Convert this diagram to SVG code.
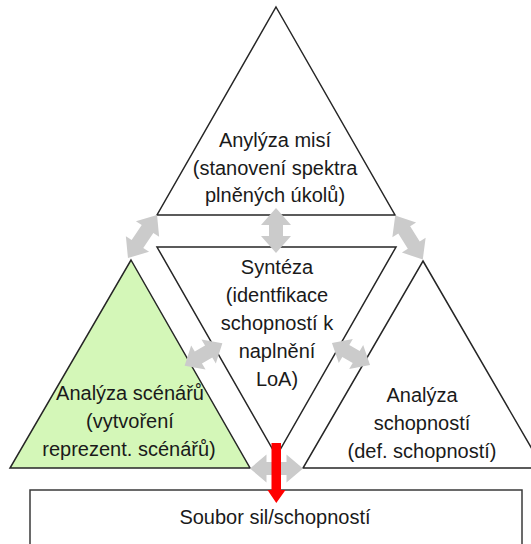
<svg xmlns="http://www.w3.org/2000/svg" width="531" height="544" viewBox="0 0 531 544">
  <style>
    .tri { stroke: #262626; stroke-width: 1.5; stroke-linejoin: miter; }
    .plain { fill: #ffffff; }
    .green { fill: #d4f7b8; }
    .box { fill: #ffffff; stroke: #3a3a3a; stroke-width: 1.5; }
    .link { fill: #cbcbcb; stroke: none; }
    .out { fill: #ff0000; stroke: none; }
    text { font-family: "Liberation Sans", Arial, sans-serif; font-size: 20px; fill: #1a1a1a; text-anchor: middle; }
  </style>

  <rect width="531" height="544" fill="#ffffff"/>

  <!-- Mission analysis (top) -->
  <g id="node-mise">
    <polygon class="tri plain" points="276,7 395,215 157,215"/>
    <text x="275" y="147">Anylýza misí</text>
    <text x="275" y="175">(stanovení spektra</text>
    <text x="275" y="202">plněných úkolů)</text>
  </g>

  <!-- Synthesis (inverted, centre) -->
  <g id="node-synteza">
    <polygon class="tri plain" points="157,247 396,247 276.5,456"/>
    <text x="277" y="274">Syntéza</text>
    <text x="277" y="302">(identfikace</text>
    <text x="277" y="330">schopností k</text>
    <text x="277" y="358">naplnění</text>
    <text x="277" y="386">LoA)</text>
  </g>

  <!-- Scenario analysis (left) -->
  <g id="node-scenare">
    <polygon class="tri green" points="131,260 250,468 10,468"/>
    <text x="130" y="400">Analýza scénářů</text>
    <text x="130" y="428">(vytvoření</text>
    <text x="129" y="456">reprezent. scénářů)</text>
  </g>

  <!-- Capability analysis (right) -->
  <g id="node-schopnosti">
    <polygon class="tri plain" points="423,261 543,468 303,468"/>
    <text x="422" y="402">Analýza</text>
    <text x="422" y="430">schopností</text>
    <text x="422" y="458">(def. schopností)</text>
  </g>

  <!-- Resulting force / capability set -->
  <g id="node-soubor">
    <rect class="box" x="30" y="490" width="492" height="70"/>
    <text x="275" y="524">Soubor sil/schopností</text>
  </g>

  <!-- Two-way links between the analyses and the output arrow -->
  <g id="connectors">
    <path class="link" transform="translate(276,230.5) rotate(90)" d="M-22.5 0 L-5.5 -15 L-5.5 -7 L5.5 -7 L5.5 -15 L22.5 0 L5.5 15 L5.5 7 L-5.5 7 L-5.5 15 Z"/>
    <path class="link" transform="translate(142.5,236.5) rotate(-56)" d="M-26 0 L-9 -14 L-9 -7 L9 -7 L9 -14 L26 0 L9 14 L9 7 L-9 7 L-9 14 Z"/>
    <path class="link" transform="translate(409,237.5) rotate(58)" d="M-26 0 L-9 -14 L-9 -7 L9 -7 L9 -14 L26 0 L9 14 L9 7 L-9 7 L-9 14 Z"/>
    <path class="link" transform="translate(203.5,354.5) rotate(-31)" d="M-22 0 L-6 -14 L-6 -7 L6 -7 L6 -14 L22 0 L6 14 L6 7 L-6 7 L-6 14 Z"/>
    <path class="link" transform="translate(351,354) rotate(30)" d="M-22 0 L-6 -14 L-6 -7 L6 -7 L6 -14 L22 0 L6 14 L6 7 L-6 7 L-6 14 Z"/>
    <path class="link" transform="translate(276.5,468.5)" d="M-26.5 0 L-10 -14 L-10 -6.5 L10 -6.5 L10 -14 L26.5 0 L10 14 L10 6.5 L-10 6.5 L-10 14 Z"/>
    <path class="out" d="M271.5 443 H281 V490 H285.5 L276.3 503 L267.5 490 H271.5 Z"/>
  </g>
</svg>
